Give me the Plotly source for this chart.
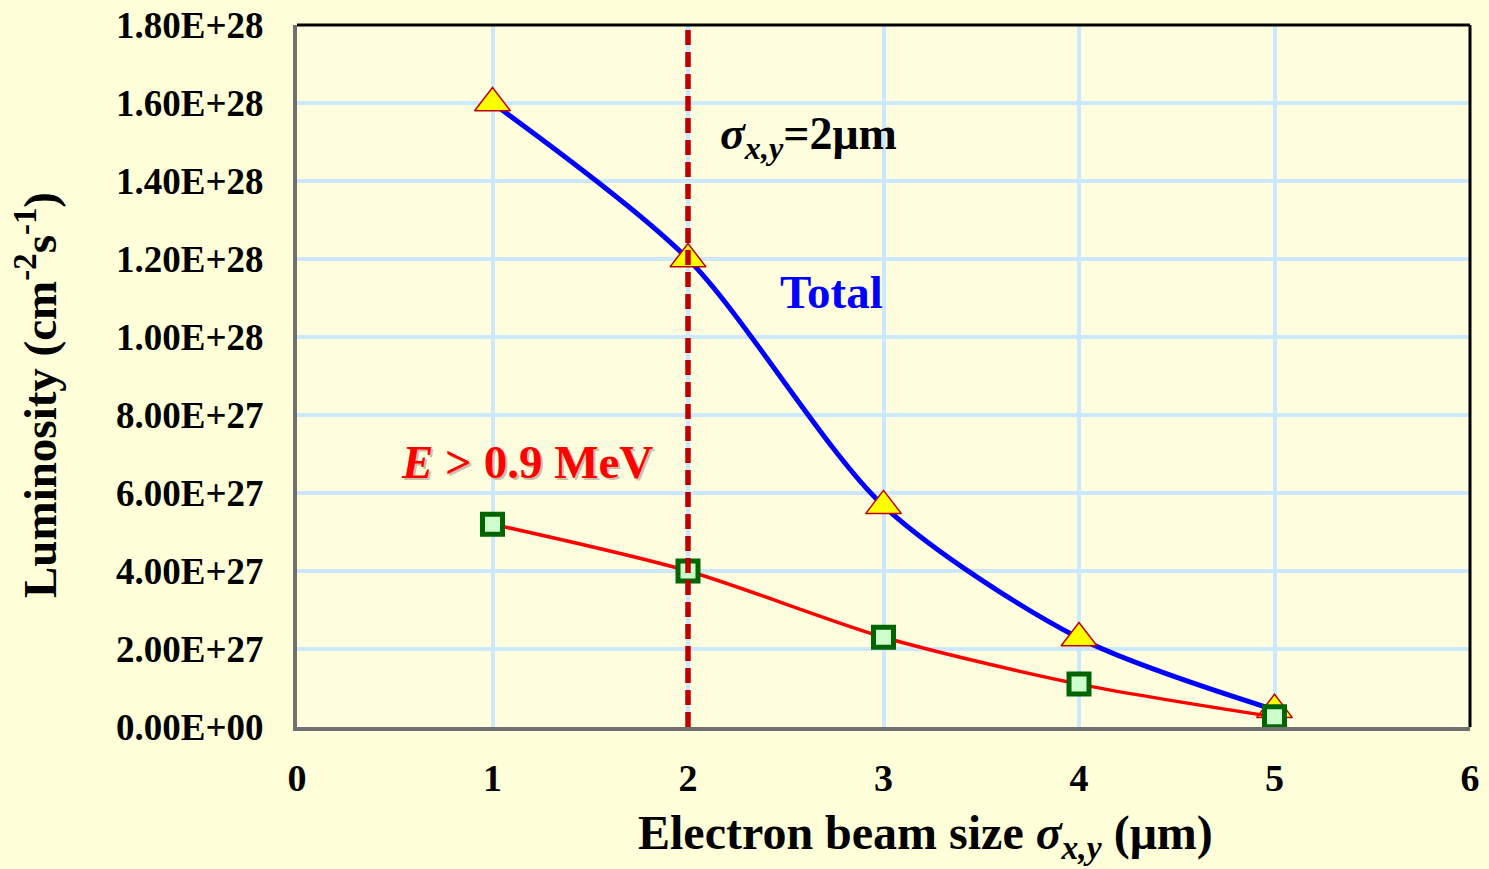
import plotly.graph_objects as go

beam_size = [1, 2, 3, 4, 5]
total_lum = [1.60e28, 1.20e28, 5.67e27, 2.28e27, 0.44e27]
high_e_lum = [5.2e27, 4.0e27, 2.3e27, 1.1e27, 0.26e27]

y_tickvals = [0, 2e27, 4e27, 6e27, 8e27, 1e28, 1.2e28, 1.4e28, 1.6e28, 1.8e28]
y_ticktext = ["0.00E+00", "2.00E+27", "4.00E+27", "6.00E+27", "8.00E+27",
              "1.00E+28", "1.20E+28", "1.40E+28", "1.60E+28", "1.80E+28"]
x_tickvals = [0, 1, 2, 3, 4, 5, 6]

FONT = "Liberation Serif"
# target plot-area pixel box
L, R, T, B = 297, 1470, 25, 727

fig = go.Figure()
fig.add_trace(go.Scatter(
    x=beam_size, y=total_lum, mode="lines+markers",
    line=dict(color="#0000FF", width=5, shape="spline", smoothing=0.8),
    marker=dict(symbol="triangle-up", size=31, color="#FFFF00",
                line=dict(color="#C00000", width=1.5)),
    showlegend=False))
fig.add_trace(go.Scatter(
    x=beam_size, y=high_e_lum, mode="lines+markers",
    line=dict(color="#FF0000", width=3.5, shape="spline", smoothing=0.8),
    marker=dict(symbol="square", size=20, color="#CCFFCC",
                line=dict(color="#006400", width=5)),
    showlegend=False))

fig.add_shape(type="line", x0=2, x1=2, y0=0, y1=1.8e28, xref="x", yref="y",
              line=dict(color="#C00000", width=5.5, dash="15px,7px"), layer="above")

fig.update_layout(
    width=1489, height=869,
    margin=dict(l=L, r=1489 - R, t=T, b=869 - B, autoexpand=False),
    paper_bgcolor="#FFFFD9",
    plot_bgcolor="#FFFFE0",
    font=dict(family=FONT, color="black"),
    xaxis=dict(range=[0, 6], tickvals=x_tickvals, showgrid=True,
               gridcolor="#CCE8FF", gridwidth=4, zeroline=False, automargin=False,
               showline=True, linecolor="#707070", linewidth=4, mirror=False,
               tickfont=dict(size=38, family=FONT, weight="bold"),
               ticks="", ticklabelstandoff=14),
    yaxis=dict(range=[0, 1.8e28], tickvals=y_tickvals, ticktext=y_ticktext,
               showgrid=True, gridcolor="#CCE8FF", gridwidth=4, zeroline=False,
               automargin=False, ticklabeloverflow="allow",
               showline=True, linecolor="#707070", linewidth=4, mirror=False,
               tickfont=dict(size=37, family=FONT, weight="bold"),
               ticks="", ticklabelstandoff=22),
)
# top and right black frame lines
fig.add_shape(type="line", xref="paper", yref="paper", x0=0, x1=1, y0=1, y1=1,
              line=dict(color="black", width=3))
fig.add_shape(type="line", xref="paper", yref="paper", x0=1, x1=1, y0=0, y1=1,
              line=dict(color="black", width=3))


def px2paper_x(px):
    return (px - L) / (R - L)


def px2paper_y(py):
    return (B - py) / (B - T)


def label(px, py, text, size, color, angle=0, xs=0, ys=0):
    fig.add_annotation(
        x=px2paper_x(px), y=px2paper_y(py), xref="paper", yref="paper",
        xanchor="center", yanchor="middle", text=text, showarrow=False,
        textangle=angle, xshift=xs, yshift=ys,
        font=dict(size=size, family=FONT, color=color, weight="bold"))


label(808, 137, "<i>σ<sub>x,y</sub></i>=2μm", 46, "black")
label(831, 292, "Total", 47, "#0000FF")
label(527, 462, "<i>E</i> > 0.9 MeV", 47, "#C8C0A8", xs=2, ys=-2)
label(527, 462, "<i>E</i> > 0.9 MeV", 47, "#FF0000")
label(925, 836, "Electron beam size <i>σ<sub>x,y</sub></i> (μm)", 48, "black")
label(36, 395, "Luminosity (cm<sup>-2</sup>s<sup>-1</sup>)", 47, "black", angle=-90)

fig.write_html("out.html")
